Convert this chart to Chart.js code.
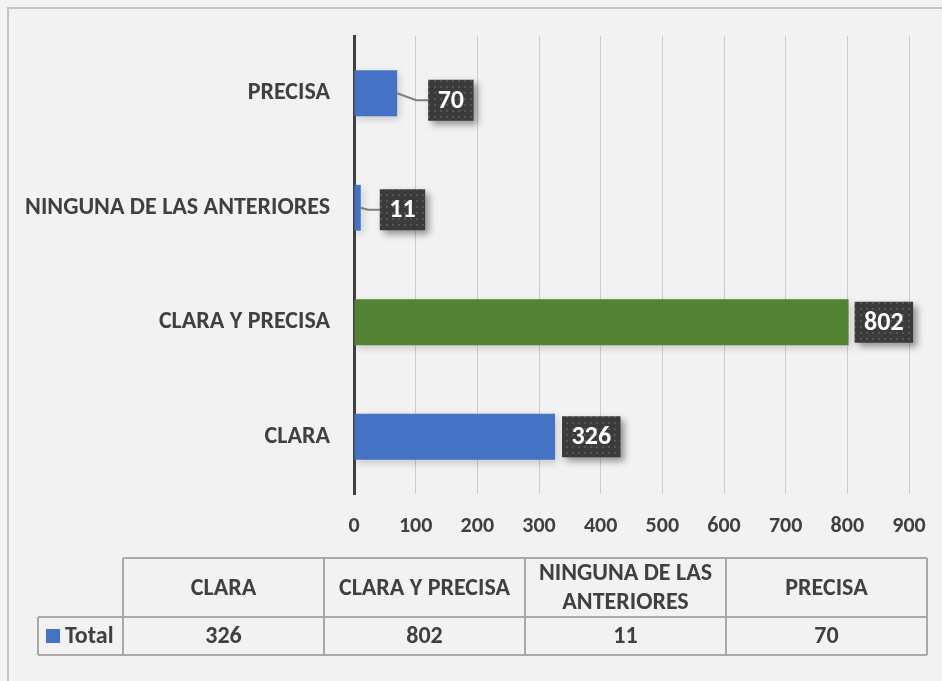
<!DOCTYPE html>
<html>
<head>
<meta charset="utf-8">
<script src="https://cdn.jsdelivr.net/npm/chart.js@4"></script>
<style>
  body { margin: 0; background: #f2f2f2; }
  #wrap { width: 942px; height: 681px; }
</style>
</head>
<body>
<div id="wrap"><canvas id="respChart" width="942" height="681"></canvas></div>
<script>
// data
var categories = ["CLARA", "CLARA Y PRECISA", "NINGUNA DE LAS ANTERIORES", "PRECISA"];
var totals = [326, 802, 11, 70];
var seriesName = "Total";
var xTicks = [0, 100, 200, 300, 400, 500, 600, 700, 800, 900];

var barColors = ["#4472c4", "#548235", "#4472c4", "#4472c4"];
var FONT = "Carlito, Lato, 'Open Sans', sans-serif";
var TXT = "#404040";

// dotted fill for the value boxes
function dotPattern(ctx) {
    var c = document.createElement("canvas");
    c.width = 6; c.height = 6;
    var g = c.getContext("2d");
    g.fillStyle = "#3b3b3b";
    g.fillRect(0, 0, 6, 6);
    g.fillStyle = "#555555";
    g.fillRect(2, 2, 2, 2);
    return ctx.createPattern(c, "repeat");
}

var background = {
    id: "background",
    beforeDraw: function(chart) {
        var ctx = chart.ctx;
        ctx.save();
        ctx.fillStyle = "#f2f2f2";
        ctx.fillRect(0, 0, chart.width, chart.height);
        ctx.strokeStyle = "#c4c4c4";
        ctx.lineWidth = 2;
        ctx.strokeRect(8, 8, chart.width + 20, chart.height + 20);
        ctx.restore();
    }
};

var barShadow = {
    id: "barShadow",
    beforeDatasetsDraw: function(chart) {
        var ctx = chart.ctx;
        ctx.save();
        ctx.shadowColor = "rgba(0,0,0,0.18)";
        ctx.shadowBlur = 8;
        ctx.shadowOffsetX = 2;
        ctx.shadowOffsetY = 3;
    },
    afterDatasetsDraw: function(chart) {
        chart.ctx.restore();
    }
};

// label boxes, moved aside (with a leader line) for the short bars
var labelOffsets = [{dx: 7, dy: 0}, {dx: 6, dy: 0}, {dx: 19, dy: 2}, {dx: 31, dy: 7}];

var valueBoxes = {
    id: "valueBoxes",
    afterDatasetsDraw: function(chart) {
        var ctx = chart.ctx;
        var meta = chart.getDatasetMeta(0);
        var data = chart.data.datasets[0].data;
        var pat = dotPattern(ctx);
        ctx.save();
        ctx.font = "bold 26px " + FONT;
        meta.data.forEach(function(el, i) {
            var off = labelOffsets[i];
            var text = String(data[i]);
            var w = Math.max(44, ctx.measureText(text).width + 19);
            var h = 41;
            var left = el.x + off.dx;
            var cy = el.y + off.dy;
            if (off.dx > 12) {
                ctx.strokeStyle = "#7f7f7f";
                ctx.lineWidth = 2;
                ctx.beginPath();
                ctx.moveTo(el.x, el.y);
                ctx.lineTo(left - 12, cy);
                ctx.lineTo(left, cy);
                ctx.stroke();
            }
            ctx.save();
            ctx.shadowColor = "rgba(0,0,0,0.4)";
            ctx.shadowBlur = 7;
            ctx.shadowOffsetX = 4;
            ctx.shadowOffsetY = 4;
            ctx.fillStyle = pat;
            ctx.fillRect(left, cy - h / 2, w, h);
            ctx.restore();
            ctx.fillStyle = "#ffffff";
            ctx.textAlign = "center";
            ctx.textBaseline = "middle";
            ctx.fillText(text, left + w / 2, cy + 1);
        });
        ctx.restore();
    }
};

function wrapWords(ctx, text, maxW) {
    var words = text.split(" ");
    var lines = [];
    var cur = "";
    words.forEach(function(wd) {
        var t = cur ? cur + " " + wd : wd;
        if (ctx.measureText(t).width > maxW && cur) {
            lines.push(cur);
            cur = wd;
        } else {
            cur = t;
        }
    });
    lines.push(cur);
    return lines;
}

// excel style data table under the axis
var dataTable = {
    id: "dataTable",
    afterDraw: function(chart) {
        var ctx = chart.ctx;
        var left = 123, right = 927, legendLeft = 38;
        var top = 558, mid = 617, bottom = 655;
        var n = chart.data.labels.length;
        var colW = (right - left) / n;
        ctx.save();
        ctx.strokeStyle = "#a9a9a9";
        ctx.lineWidth = 2;
        ctx.beginPath();
        ctx.moveTo(left, top); ctx.lineTo(right, top);
        ctx.moveTo(legendLeft, mid); ctx.lineTo(right, mid);
        ctx.moveTo(legendLeft, bottom); ctx.lineTo(right, bottom);
        ctx.moveTo(legendLeft, mid); ctx.lineTo(legendLeft, bottom);
        for (var i = 0; i <= n; i++) {
            var x = left + colW * i;
            ctx.moveTo(x, top); ctx.lineTo(x, bottom);
        }
        ctx.stroke();

        ctx.font = "bold 24px " + FONT;
        ctx.fillStyle = TXT;
        ctx.textAlign = "center";
        ctx.textBaseline = "middle";
        chart.data.labels.forEach(function(lab, i) {
            var cx = left + colW * (i + 0.5);
            var lines = wrapWords(ctx, lab, colW - 12);
            var lh = 29;
            var y0 = (top + mid) / 2 + 1 - (lines.length - 1) * lh / 2;
            lines.forEach(function(ln, k) {
                ctx.fillText(ln, cx, y0 + k * lh);
            });
            ctx.fillText(String(chart.data.datasets[0].data[i]), cx, (mid + bottom) / 2 + 1);
        });

        ctx.fillStyle = "#4472c4";
        ctx.fillRect(46, 629, 14, 14);
        ctx.fillStyle = TXT;
        ctx.textAlign = "left";
        ctx.fillText(chart.data.datasets[0].label, 65, (mid + bottom) / 2 + 1);
        ctx.restore();
    }
};

new Chart("respChart", {
    type: "bar",
    data: {
        labels: categories,
        datasets: [{
            label: seriesName,
            data: totals,
            backgroundColor: barColors,
            borderWidth: 0,
            categoryPercentage: 0.4,
            barPercentage: 1.0
        }]
    },
    options: {
        indexAxis: "y",
        responsive: false,
        animation: false,
        events: [],
        layout: {padding: {top: 36, right: 33, left: 0, bottom: 0}},
        scales: {
            x: {
                min: 0,
                max: xTicks[xTicks.length - 1],
                afterFit: function(scale) {
                    scale.height = 187;
                    scale.paddingLeft = 0;
                    scale.paddingRight = 0;
                },
                afterBuildTicks: function(scale) {
                    scale.ticks = xTicks.map(function(v) { return {value: v}; });
                },
                grid: {color: "#cccccc", lineWidth: 1, drawTicks: false},
                border: {display: false},
                ticks: {
                    padding: 19,
                    color: TXT,
                    font: {family: FONT, size: 22, weight: "bold"}
                }
            },
            y: {
                reverse: true,
                afterFit: function(scale) { scale.width = 354; },
                grid: {display: false},
                border: {color: "#404040", width: 3},
                ticks: {
                    padding: 16,
                    color: TXT,
                    font: {family: FONT, size: 24, weight: "bold"}
                }
            }
        },
        plugins: {
            legend: {display: false},
            tooltip: {enabled: false}
        }
    },
    plugins: [background, barShadow, valueBoxes, dataTable]
});
</script>
</body>
</html>
